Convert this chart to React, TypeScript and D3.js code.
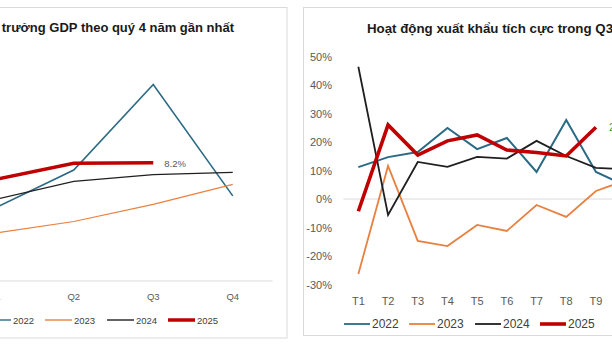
import React from 'react';
import * as d3 from 'd3';

const gdpQuarters = ['Q1', 'Q2', 'Q3', 'Q4'];
const gdp2022 = [5.05, 7.72, 13.67, 5.92];
const gdp2023 = [3.32, 4.14, 5.33, 6.72];
const gdp2024 = [5.66, 6.93, 7.4, 7.55];
const gdp2025 = [7.05, 8.19, 8.23];
const gdpLabel = '8.2%';

const months = ['T1', 'T2', 'T3', 'T4', 'T5', 'T6', 'T7', 'T8', 'T9', 'T10', 'T11', 'T12'];
const exp2022 = [11.2, 14.7, 16.5, 24.9, 17.5, 21.4, 9.5, 27.7, 9.5, 4.6];
const exp2023 = [-26.3, 11.6, -14.7, -16.5, -9.1, -11.2, -2.1, -6.3, 2.8, 6.5];
const exp2024 = [46.4, -5.6, 13.0, 11.3, 14.8, 14.2, 20.4, 15.1, 10.9, 10.5];
const exp2025 = [-4.3, 26.0, 15.4, 20.4, 22.5, 17.2, 16.3, 15.1, 25.2];
const expTicks = [-30, -20, -10, 0, 10, 20, 30, 40, 50];
const expLabel = '25.2%';

const years = ['2022', '2023', '2024', '2025'];
const colors = ['#2b6a84', '#e8803f', '#1f1f1f', '#c00000'];

const FONT = "'Liberation Sans', Arial, sans-serif";

export default function App() {
  // Left chart
  const xL = d3.scaleBand<string>().domain(gdpQuarters).range([-45.5, 272.5]);
  const yL = d3.scaleLinear().domain([0, 16]).range([281, 51]);
  const cxL = (q: string) => (xL(q) as number) + xL.bandwidth() / 2;
  const lineL = d3.line<number>().x((_, i) => cxL(gdpQuarters[i])).y((v) => yL(v));
  const leftSeries = [gdp2022, gdp2023, gdp2024, gdp2025];
  const leftWidths = [1.6, 1.2, 1.2, 3.5];

  // Right chart
  const xR = d3.scaleBand<string>().domain(months).range([343.5, 343.5 + 12 * 29.7]);
  const yR = d3.scaleLinear().domain([-30, 50]).range([284.5, 56.5]);
  const cxR = (m: string) => (xR(m) as number) + xR.bandwidth() / 2;
  const lineR = d3.line<number>().x((_, i) => cxR(months[i])).y((v) => yR(v));
  const rightSeries = [exp2022, exp2023, exp2024, exp2025];
  const rightWidths = [2, 1.8, 1.8, 3.6];

  const leftLegendX = [-16, 45, 107, 168];
  const rightLegendX = [344, 409, 475, 540];

  const last25 = gdp2025.length - 1;
  const lastE25 = exp2025.length - 1;

  return (
    <svg width={612} height={345} style={{ position: 'absolute', left: 0, top: 0, background: '#fff' }} fontFamily={FONT}>
      <rect x={0} y={0} width={612} height={345} fill="#fff" />
      {/* Left panel */}
      <rect x={-10} y={7.5} width={297} height={330.5} fill="#fff" stroke="#d9d9d9" strokeWidth={1} />
      <text x={234} y={32} textAnchor="end" fontSize={13} fontWeight="bold" fill="#1a1a1a">
        Tăng trưởng GDP theo quý 4 năm gần nhất
      </text>
      <line x1={-45} x2={272.5} y1={yL(0)} y2={yL(0)} stroke="#d9d9d9" strokeWidth={1} />
      {gdpQuarters.map((q) => (
        <text key={q} x={cxL(q)} y={300} textAnchor="middle" fontSize={9.5} fill="#595959">{q}</text>
      ))}
      {leftSeries.map((s, i) => (
        <path key={i} d={lineL(s) || ''} fill="none" stroke={colors[i]} strokeWidth={leftWidths[i]} strokeLinejoin="miter" />
      ))}
      <text x={cxL(gdpQuarters[last25]) + 11} y={yL(gdp2025[last25]) + 4} fontSize={9.5} fill="#595959">{gdpLabel}</text>
      {years.map((y, i) => (
        <g key={y}>
          <line x1={leftLegendX[i]} x2={leftLegendX[i] + 27} y1={320} y2={320} stroke={colors[i]} strokeWidth={i === 3 ? 3.5 : 1.4} />
          <text x={leftLegendX[i] + 29} y={323.5} fontSize={9.5} fill="#404040">{y}</text>
        </g>
      ))}

      {/* Right panel */}
      <rect x={303.5} y={7.5} width={320} height={328} fill="#fff" stroke="#d9d9d9" strokeWidth={1} />
      <text x={367} y={33} fontSize={13.3} fontWeight="bold" fill="#1a1a1a">
        Hoạt động xuất khẩu tích cực trong Q3
      </text>
      <line x1={343.5} x2={700} y1={yR(0)} y2={yR(0)} stroke="#d9d9d9" strokeWidth={1} />
      {expTicks.map((t) => (
        <text key={t} x={332} y={yR(t) + 4} textAnchor="end" fontSize={11} fill="#595959">{`${t}%`}</text>
      ))}
      {months.map((m) => (
        <text key={m} x={cxR(m)} y={304.5} textAnchor="middle" fontSize={11} fill="#595959">{m}</text>
      ))}
      {rightSeries.map((s, i) => (
        <path key={i} d={lineR(s) || ''} fill="none" stroke={colors[i]} strokeWidth={rightWidths[i]} strokeLinejoin="miter" />
      ))}
      <text x={cxR(months[lastE25]) + 13} y={yR(exp2025[lastE25]) + 4} fontSize={11} fill="#3a9a3a">{expLabel}</text>
      {years.map((y, i) => (
        <g key={y}>
          <line x1={rightLegendX[i]} x2={rightLegendX[i] + 26} y1={324} y2={324} stroke={colors[i]} strokeWidth={i === 3 ? 3.6 : 1.8} />
          <text x={rightLegendX[i] + 28} y={328.3} fontSize={12} fill="#404040">{y}</text>
        </g>
      ))}
    </svg>
  );
}
